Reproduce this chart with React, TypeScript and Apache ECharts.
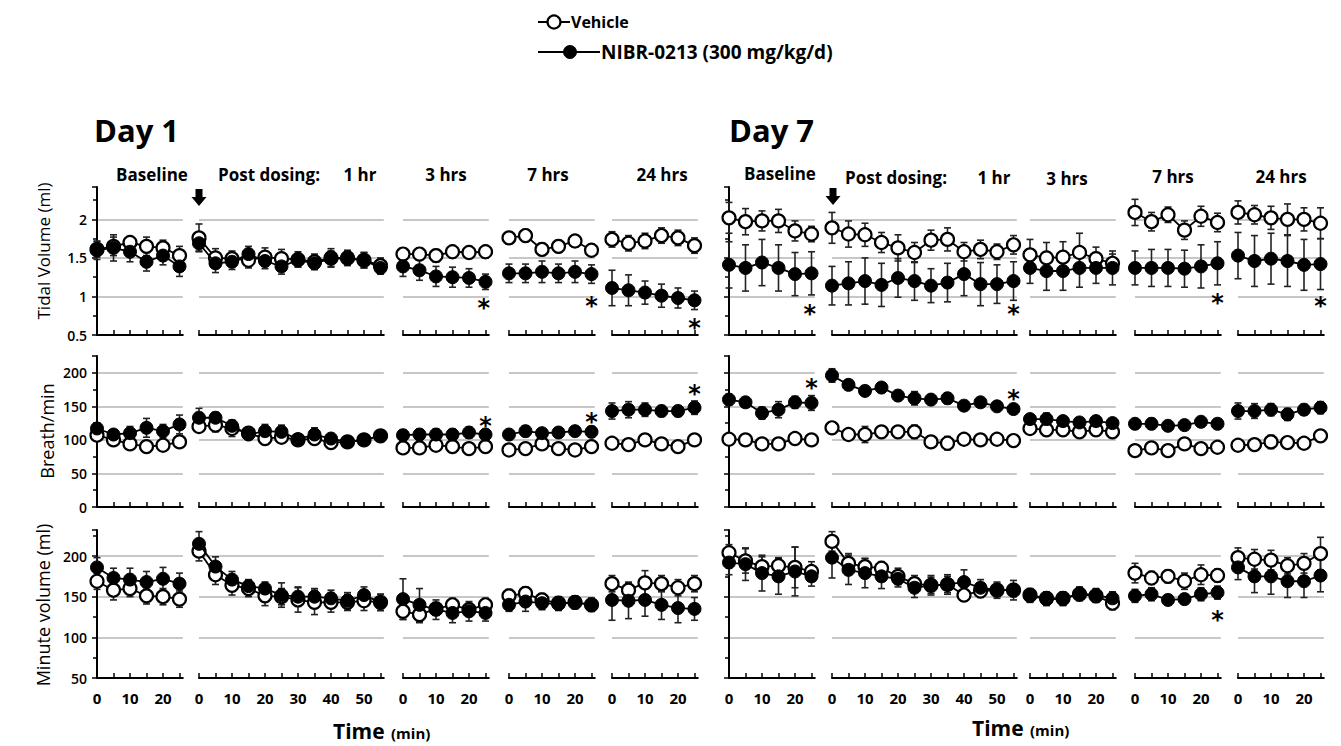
import React, { useEffect, useRef } from 'react';
import * as echarts from 'echarts';

// ---------- categories / axes ----------
const days = ['Day 1', 'Day 7'];
const segNames = ['Baseline', '1 hr', '3 hrs', '7 hrs', '24 hrs'];
const rowNames = ['Tidal Volume (ml)', 'Breath/min', 'Minute volume (ml)'];
const t6 = [0, 5, 10, 15, 20, 25];
const t12 = [0, 5, 10, 15, 20, 25, 30, 35, 40, 45, 50, 55];
const xLabels6 = [0, 10, 20];
const xLabels12 = [0, 10, 20, 30, 40, 50];
const yLabelsTv = [0.5, 1, 1.5, 2];
const yLabelsBr = [0, 50, 100, 150, 200];
const yLabelsMv = [50, 100, 150, 200];

// ---------- Day 1, tidal volume (ml) ----------
const d1TvVeh = [
  [1.61, 1.65, 1.70, 1.65, 1.63, 1.53],
  [1.76, 1.50, 1.49, 1.47, 1.51, 1.49, 1.48, 1.45, 1.50, 1.50, 1.47, 1.40],
  [1.55, 1.55, 1.53, 1.58, 1.57, 1.58],
  [1.76, 1.79, 1.61, 1.65, 1.72, 1.60],
  [1.74, 1.69, 1.72, 1.79, 1.76, 1.66],
];
const d1TvVehSd = [
  [0.10, 0.12, 0.08, 0.12, 0.10, 0.12],
  [0.18, 0.12, 0.10, 0.10, 0.12, 0.12, 0.10, 0.10, 0.12, 0.10, 0.10, 0.10],
  [0.08, 0.08, 0.08, 0.08, 0.08, 0.08],
  [0.08, 0.08, 0.08, 0.08, 0.08, 0.08],
  [0.10, 0.10, 0.10, 0.10, 0.10, 0.10],
];
const d1TvNibr = [
  [1.60, 1.63, 1.58, 1.45, 1.53, 1.39],
  [1.69, 1.43, 1.45, 1.55, 1.46, 1.39, 1.47, 1.43, 1.49, 1.49, 1.47, 1.37],
  [1.39, 1.34, 1.26, 1.25, 1.24, 1.19],
  [1.30, 1.30, 1.32, 1.30, 1.32, 1.29],
  [1.11, 1.08, 1.05, 1.01, 0.98, 0.95],
];
const d1TvNibrSd = [
  [0.12, 0.17, 0.13, 0.12, 0.12, 0.13],
  [0.10, 0.12, 0.10, 0.10, 0.10, 0.10, 0.08, 0.08, 0.10, 0.08, 0.10, 0.08],
  [0.13, 0.13, 0.13, 0.13, 0.12, 0.10],
  [0.12, 0.12, 0.14, 0.12, 0.14, 0.12],
  [0.23, 0.20, 0.15, 0.15, 0.13, 0.12],
];

// ---------- Day 7, tidal volume (ml) ----------
const d7TvVeh = [
  [2.02, 1.97, 1.98, 1.98, 1.85, 1.81],
  [1.89, 1.81, 1.80, 1.70, 1.63, 1.57, 1.73, 1.74, 1.58, 1.61, 1.58, 1.67],
  [1.54, 1.50, 1.51, 1.57, 1.49, 1.43],
  [2.09, 1.97, 2.06, 1.86, 2.04, 1.96],
  [2.09, 2.06, 2.02, 2.00, 2.00, 1.95],
];
const d7TvVehSd = [
  [0.20, 0.17, 0.13, 0.15, 0.13, 0.10],
  [0.20, 0.17, 0.15, 0.13, 0.17, 0.13, 0.13, 0.15, 0.12, 0.12, 0.10, 0.12],
  [0.20, 0.20, 0.20, 0.25, 0.15, 0.12],
  [0.17, 0.12, 0.10, 0.12, 0.13, 0.12],
  [0.15, 0.12, 0.15, 0.20, 0.15, 0.20],
];
const d7TvNibr = [
  [1.41, 1.37, 1.44, 1.37, 1.29, 1.30],
  [1.14, 1.17, 1.20, 1.15, 1.24, 1.20, 1.14, 1.18, 1.29, 1.16, 1.16, 1.20],
  [1.37, 1.33, 1.33, 1.37, 1.37, 1.37],
  [1.37, 1.37, 1.37, 1.36, 1.39, 1.43],
  [1.53, 1.46, 1.49, 1.46, 1.41, 1.42],
];
const d7TvNibrSd = [
  [0.30, 0.30, 0.30, 0.30, 0.28, 0.28],
  [0.25, 0.28, 0.30, 0.28, 0.25, 0.25, 0.22, 0.25, 0.28, 0.28, 0.25, 0.25],
  [0.20, 0.25, 0.25, 0.25, 0.20, 0.22],
  [0.22, 0.24, 0.24, 0.24, 0.28, 0.28],
  [0.30, 0.33, 0.33, 0.33, 0.33, 0.33],
];

// ---------- Day 1, breath/min ----------
const d1BrVeh = [
  [107, 100, 94, 90, 92, 97],
  [120, 122, 117, 110, 102, 104, 100, 102, 96, 97, 100, 106],
  [88, 88, 92, 90, 87, 90],
  [85, 87, 94, 87, 85, 90],
  [95, 93, 100, 94, 90, 100],
];
const d1BrVehSd = [
  [6, 8, 4, 4, 4, 4],
  [8, 10, 12, 6, 8, 8, 6, 8, 5, 4, 4, 4],
  [3, 3, 3, 3, 3, 3],
  [3, 3, 3, 3, 3, 3],
  [4, 4, 8, 4, 4, 5],
];
const d1BrNibr = [
  [117, 108, 110, 118, 113, 123],
  [133, 133, 121, 108, 113, 112, 101, 108, 102, 97, 100, 106],
  [107, 108, 108, 108, 111, 108],
  [108, 113, 110, 111, 113, 112],
  [143, 145, 145, 143, 143, 148],
];
const d1BrNibrSd = [
  [8, 6, 10, 14, 10, 14],
  [14, 8, 8, 6, 10, 10, 8, 10, 5, 4, 4, 4],
  [8, 8, 8, 8, 8, 8],
  [5, 8, 5, 5, 5, 8],
  [12, 12, 10, 8, 8, 10],
];

// ---------- Day 7, breath/min ----------
const d7BrVeh = [
  [101, 100, 94, 94, 102, 100],
  [118, 108, 108, 112, 112, 112, 97, 95, 101, 100, 101, 99],
  [117, 115, 115, 112, 115, 112],
  [84, 88, 84, 94, 87, 89],
  [92, 93, 97, 96, 95, 106],
];
const d7BrVehSd = [
  [6, 8, 4, 4, 5, 5],
  [8, 8, 12, 8, 8, 10, 8, 10, 5, 5, 6, 4],
  [4, 4, 4, 4, 4, 4],
  [3, 3, 3, 3, 3, 3],
  [4, 4, 10, 4, 4, 6],
];
const d7BrNibr = [
  [160, 156, 140, 145, 156, 155],
  [196, 182, 173, 178, 166, 162, 160, 162, 151, 156, 150, 146],
  [131, 131, 128, 126, 128, 125],
  [124, 124, 121, 122, 127, 124],
  [143, 143, 145, 138, 145, 148],
];
const d7BrNibrSd = [
  [8, 6, 9, 12, 9, 11],
  [10, 7, 5, 5, 6, 10, 5, 8, 6, 4, 4, 4],
  [5, 9, 6, 6, 6, 5],
  [4, 8, 4, 4, 7, 6],
  [12, 11, 9, 9, 8, 9],
];

// ---------- Day 1, minute volume (ml) ----------
const d1MvVeh = [
  [169, 158, 160, 151, 150, 147],
  [206, 177, 164, 160, 151, 150, 146, 143, 143, 143, 145, 143],
  [132, 128, 135, 140, 134, 140],
  [151, 154, 146, 142, 143, 140],
  [166, 158, 167, 166, 161, 166],
];
const d1MvVehSd = [
  [10, 12, 10, 10, 10, 10],
  [12, 12, 12, 10, 12, 10, 15, 15, 12, 10, 12, 10],
  [10, 10, 8, 8, 8, 8],
  [8, 8, 8, 8, 8, 8],
  [10, 10, 15, 10, 10, 10],
];
const d1MvNibr = [
  [186, 173, 171, 168, 172, 166],
  [215, 187, 171, 163, 160, 152, 150, 150, 148, 145, 152, 143],
  [147, 140, 134, 130, 132, 130],
  [140, 144, 142, 141, 143, 140],
  [146, 145, 146, 140, 136, 135],
];
const d1MvNibrSd = [
  [12, 12, 14, 13, 14, 13],
  [15, 12, 10, 8, 8, 15, 12, 10, 10, 10, 10, 10],
  [25, 20, 12, 12, 12, 10],
  [8, 12, 8, 8, 6, 8],
  [25, 22, 20, 18, 18, 14],
];

// ---------- Day 7, minute volume (ml) ----------
const d7MvVeh = [
  [204, 194, 187, 188, 186, 181],
  [218, 191, 187, 185, 175, 166, 164, 165, 152, 157, 158, 158],
  [152, 148, 148, 153, 151, 142],
  [179, 173, 175, 169, 177, 176],
  [198, 196, 195, 188, 191, 203],
];
const d7MvVehSd = [
  [10, 15, 12, 10, 25, 12],
  [12, 12, 10, 8, 10, 10, 10, 10, 6, 8, 8, 8],
  [8, 8, 8, 8, 8, 8],
  [12, 8, 8, 10, 12, 8],
  [12, 12, 12, 10, 12, 20],
];
const d7MvNibr = [
  [192, 190, 179, 175, 181, 175],
  [198, 183, 179, 175, 172, 161, 164, 165, 168, 161, 158, 158],
  [151, 147, 147, 154, 152, 148],
  [151, 153, 146, 147, 153, 155],
  [186, 175, 175, 169, 169, 176],
];
const d7MvNibrSd = [
  [15, 20, 22, 22, 30, 12],
  [25, 18, 18, 15, 10, 12, 12, 12, 15, 10, 10, 12],
  [8, 8, 8, 8, 8, 8],
  [8, 8, 6, 6, 8, 8],
  [15, 20, 22, 20, 20, 20],
];

// significance marks: [day, row, segment, time, value]
const stars = [
  [0, 0, 2, 24.5, 0.93], [0, 0, 3, 25, 0.95], [0, 0, 4, 25, 0.67],
  [1, 0, 0, 24.5, 0.85], [1, 0, 1, 55, 0.85], [1, 0, 3, 25, 0.99], [1, 0, 4, 25, 0.95],
  [0, 1, 2, 25, 130], [0, 1, 3, 25, 136], [0, 1, 4, 25, 178],
  [1, 1, 0, 25, 187], [1, 1, 1, 55, 170],
  [1, 2, 3, 25, 129],
];

const allData = [
  [
    [d1TvVeh, d1TvVehSd, d1TvNibr, d1TvNibrSd],
    [d1BrVeh, d1BrVehSd, d1BrNibr, d1BrNibrSd],
    [d1MvVeh, d1MvVehSd, d1MvNibr, d1MvNibrSd],
  ],
  [
    [d7TvVeh, d7TvVehSd, d7TvNibr, d7TvNibrSd],
    [d7BrVeh, d7BrVehSd, d7BrNibr, d7BrNibrSd],
    [d7MvVeh, d7MvVehSd, d7MvNibr, d7MvNibrSd],
  ],
];

// ---------- layout ----------
const PX = 3.3;
const segLeft = [[97, 199, 403, 509, 612], [729, 832, 1030, 1135, 1238]];
const rowTop = [187, 356, 530];
const rowBottom = [335, 507, 678];
const yMin = [0.5, 0, 50];
const yMax = [2.42, 225, 232];
const yInt = [0.5, 50, 50];
const yLabelSets = [yLabelsTv, yLabelsBr, yLabelsMv];
const FONT = '"Open Sans", Lato, sans-serif';

function buildOption() {
  const grid: any[] = [];
  const xAxis: any[] = [];
  const yAxis: any[] = [];
  const series: any[] = [];

  for (let d = 0; d < 2; d++) {
    for (let r = 0; r < 3; r++) {
      for (let s = 0; s < 5; s++) {
        const idx = grid.length;
        const times = s === 1 ? t12 : t6;
        const xmax = s === 1 ? 56 : 26;
        grid.push({
          left: segLeft[d][s],
          top: rowTop[r],
          width: xmax * PX,
          height: rowBottom[r] - rowTop[r],
          containLabel: false,
        });
        xAxis.push({
          gridIndex: idx,
          type: 'value',
          min: 0,
          max: xmax,
          axisLine: { show: true, onZero: false, lineStyle: { color: '#000', width: 2 } },
          axisTick: { show: true, inside: true, length: 5, customValues: times, lineStyle: { color: '#000', width: 1.5 } },
          axisLabel: {
            show: r === 2,
            customValues: s === 1 ? xLabels12 : xLabels6,
            color: '#000',
            fontFamily: FONT,
            fontWeight: 'bold',
            fontSize: 15,
            margin: 12,
          },
          splitLine: { show: false },
        });
        const first = s === 0;
        yAxis.push({
          gridIndex: idx,
          type: 'value',
          min: yMin[r],
          max: yMax[r],
          interval: yInt[r],
          axisLine: { show: first, lineStyle: { color: '#000', width: 2 } },
          axisTick: { show: first, inside: false, length: 5, lineStyle: { color: '#000', width: 1.5 } },
          minorTick: { show: first, splitNumber: 2, length: 4, lineStyle: { color: '#000', width: 1.5 } },
          axisLabel: {
            show: first && d === 0,
            customValues: yLabelSets[r],
            color: '#000',
            fontFamily: FONT,
            fontWeight: 600,
            fontSize: 14,
            margin: 10,
          },
          splitLine: { show: true, showMinLine: false, showMaxLine: false, lineStyle: { color: '#b4b4b4', width: 1.5 } },
        });

        const [veh, vehSd, nib, nibSd] = allData[d][r];
        const errData: any[] = [];
        times.forEach((t, i) => {
          errData.push([t, veh[s][i], vehSd[s][i]]);
          errData.push([t, nib[s][i], nibSd[s][i]]);
        });
        series.push({
          type: 'custom',
          xAxisIndex: idx,
          yAxisIndex: idx,
          z: 1,
          silent: true,
          clip: false,
          data: errData,
          encode: { x: 0, y: 1 },
          renderItem: (params: any, api: any) => {
            const x = api.value(0);
            const y = api.value(1);
            const e = api.value(2);
            const top = api.coord([x, y + e]);
            const bot = api.coord([x, y - e]);
            const cw = 3.5;
            const st = { stroke: '#222', lineWidth: 1.6 };
            return {
              type: 'group',
              children: [
                { type: 'line', shape: { x1: top[0], y1: top[1], x2: bot[0], y2: bot[1] }, style: st },
                { type: 'line', shape: { x1: top[0] - cw, y1: top[1], x2: top[0] + cw, y2: top[1] }, style: st },
                { type: 'line', shape: { x1: bot[0] - cw, y1: bot[1], x2: bot[0] + cw, y2: bot[1] }, style: st },
              ],
            };
          },
        });
        series.push({
          type: 'line',
          name: 'Vehicle',
          xAxisIndex: idx,
          yAxisIndex: idx,
          z: 2,
          silent: true,
          data: times.map((t, i) => [t, veh[s][i]]),
          symbol: 'circle',
          symbolSize: 13,
          showAllSymbol: true,
          lineStyle: { color: '#000', width: 1.8 },
          itemStyle: { color: '#fff', borderColor: '#000', borderWidth: 2.2 },
        });
        series.push({
          type: 'line',
          name: 'NIBR-0213 (300 mg/kg/d)',
          xAxisIndex: idx,
          yAxisIndex: idx,
          z: 3,
          silent: true,
          data: times.map((t, i) => [t, nib[s][i]]),
          symbol: 'circle',
          symbolSize: 13,
          showAllSymbol: true,
          lineStyle: { color: '#000', width: 1.8 },
          itemStyle: { color: '#000', borderColor: '#000', borderWidth: 1 },
        });
        const st = stars.filter((k) => k[0] === d && k[1] === r && k[2] === s);
        if (st.length) {
          series.push({
            type: 'scatter',
            xAxisIndex: idx,
            yAxisIndex: idx,
            z: 4,
            silent: true,
            symbol: 'circle',
            symbolSize: 2,
            itemStyle: { color: '#fff', opacity: 0 },
            data: st.map((k) => [k[3], k[4]]),
            label: {
              show: true,
              position: 'inside',
              formatter: '*',
              fontFamily: '"DejaVu Sans", sans-serif',
              fontWeight: 'bold',
              fontSize: 24,
              color: '#000',
              opacity: 1,
              textBorderWidth: 0,
              offset: [0, 6],
            },
          });
        }
      }
    }
  }

  const txt = (text: string, x: number, y: number, size: number, weight: any, align = 'left', extra: any = {}) => ({
    type: 'text',
    x,
    y,
    silent: true,
    ...extra,
    style: {
      text,
      fill: '#000',
      font: `${weight} ${size}px ${FONT}`,
      align,
      verticalAlign: 'middle',
    },
  });

  const arrow = (cx: number, y0: number) => ({
    type: 'polygon',
    silent: true,
    shape: {
      points: [
        [cx - 3.5, y0], [cx + 3.5, y0], [cx + 3.5, y0 + 8], [cx + 7.5, y0 + 8],
        [cx, y0 + 17], [cx - 7.5, y0 + 8], [cx - 3.5, y0 + 8],
      ],
    },
    style: { fill: '#000' },
  });

  const graphic: any[] = [
    // legend
    { type: 'line', silent: true, shape: { x1: 538, y1: 22, x2: 570, y2: 22 }, style: { stroke: '#000', lineWidth: 2 } },
    { type: 'circle', silent: true, shape: { cx: 554, cy: 22, r: 6.5 }, style: { fill: '#fff', stroke: '#000', lineWidth: 2.2 } },
    txt('Vehicle', 571, 22, 16, 'bold'),
    { type: 'line', silent: true, shape: { x1: 538, y1: 52, x2: 600, y2: 52 }, style: { stroke: '#000', lineWidth: 2 } },
    { type: 'circle', silent: true, shape: { cx: 570, cy: 52, r: 6.5 }, style: { fill: '#000', stroke: '#000', lineWidth: 1 } },
    txt('NIBR-0213 (300 mg/kg/d)', 601, 52, 19, 'bold'),
    // day titles
    txt(days[0], 94, 130, 31, 'bold'),
    txt(days[1], 729, 130, 31, 'bold'),
    // segment headers day 1
    txt(segNames[0], 152, 174, 17, 'bold', 'center'),
    txt('Post dosing:', 218, 174, 17, 'bold'),
    txt(segNames[1], 360, 174, 17, 'bold', 'center'),
    txt(segNames[2], 446, 174, 17, 'bold', 'center'),
    txt(segNames[3], 548, 174, 17, 'bold', 'center'),
    txt(segNames[4], 662, 174, 17, 'bold', 'center'),
    // segment headers day 7
    txt(segNames[0], 780, 173, 17, 'bold', 'center'),
    txt('Post dosing:', 845, 177, 17, 'bold'),
    txt(segNames[1], 994, 177, 17, 'bold', 'center'),
    txt(segNames[2], 1067, 178, 17, 'bold', 'center'),
    txt(segNames[3], 1173, 176, 17, 'bold', 'center'),
    txt(segNames[4], 1281, 176, 17, 'bold', 'center'),
    // dosing arrows
    arrow(199, 189),
    arrow(833, 188),
    // y-axis titles
    txt(rowNames[0], 43, 251, 17, 'normal', 'center', { rotation: Math.PI / 2 }),
    txt(rowNames[1], 47, 431, 18, 'normal', 'center', { rotation: Math.PI / 2 }),
    txt(rowNames[2], 43, 605, 18, 'normal', 'center', { rotation: Math.PI / 2 }),
    // x-axis titles
    txt('Time', 333, 731, 21, 'bold'),
    txt('(min)', 391, 733, 15, 'bold'),
    txt('Time', 972, 728, 21, 'bold'),
    txt('(min)', 1030, 730, 15, 'bold'),
  ];

  return {
    animation: false,
    backgroundColor: '#fff',
    grid,
    xAxis,
    yAxis,
    series,
    graphic,
  };
}

export default function App() {
  const ref = useRef<HTMLDivElement>(null);
  useEffect(() => {
    document.body.style.margin = '0';
    if (!ref.current) return;
    const chart = echarts.init(ref.current, undefined, { renderer: 'svg' });
    chart.setOption(buildOption() as any);
    return () => chart.dispose();
  }, []);
  return <div ref={ref} style={{ width: 1341, height: 746, background: '#fff' }} />;
}
